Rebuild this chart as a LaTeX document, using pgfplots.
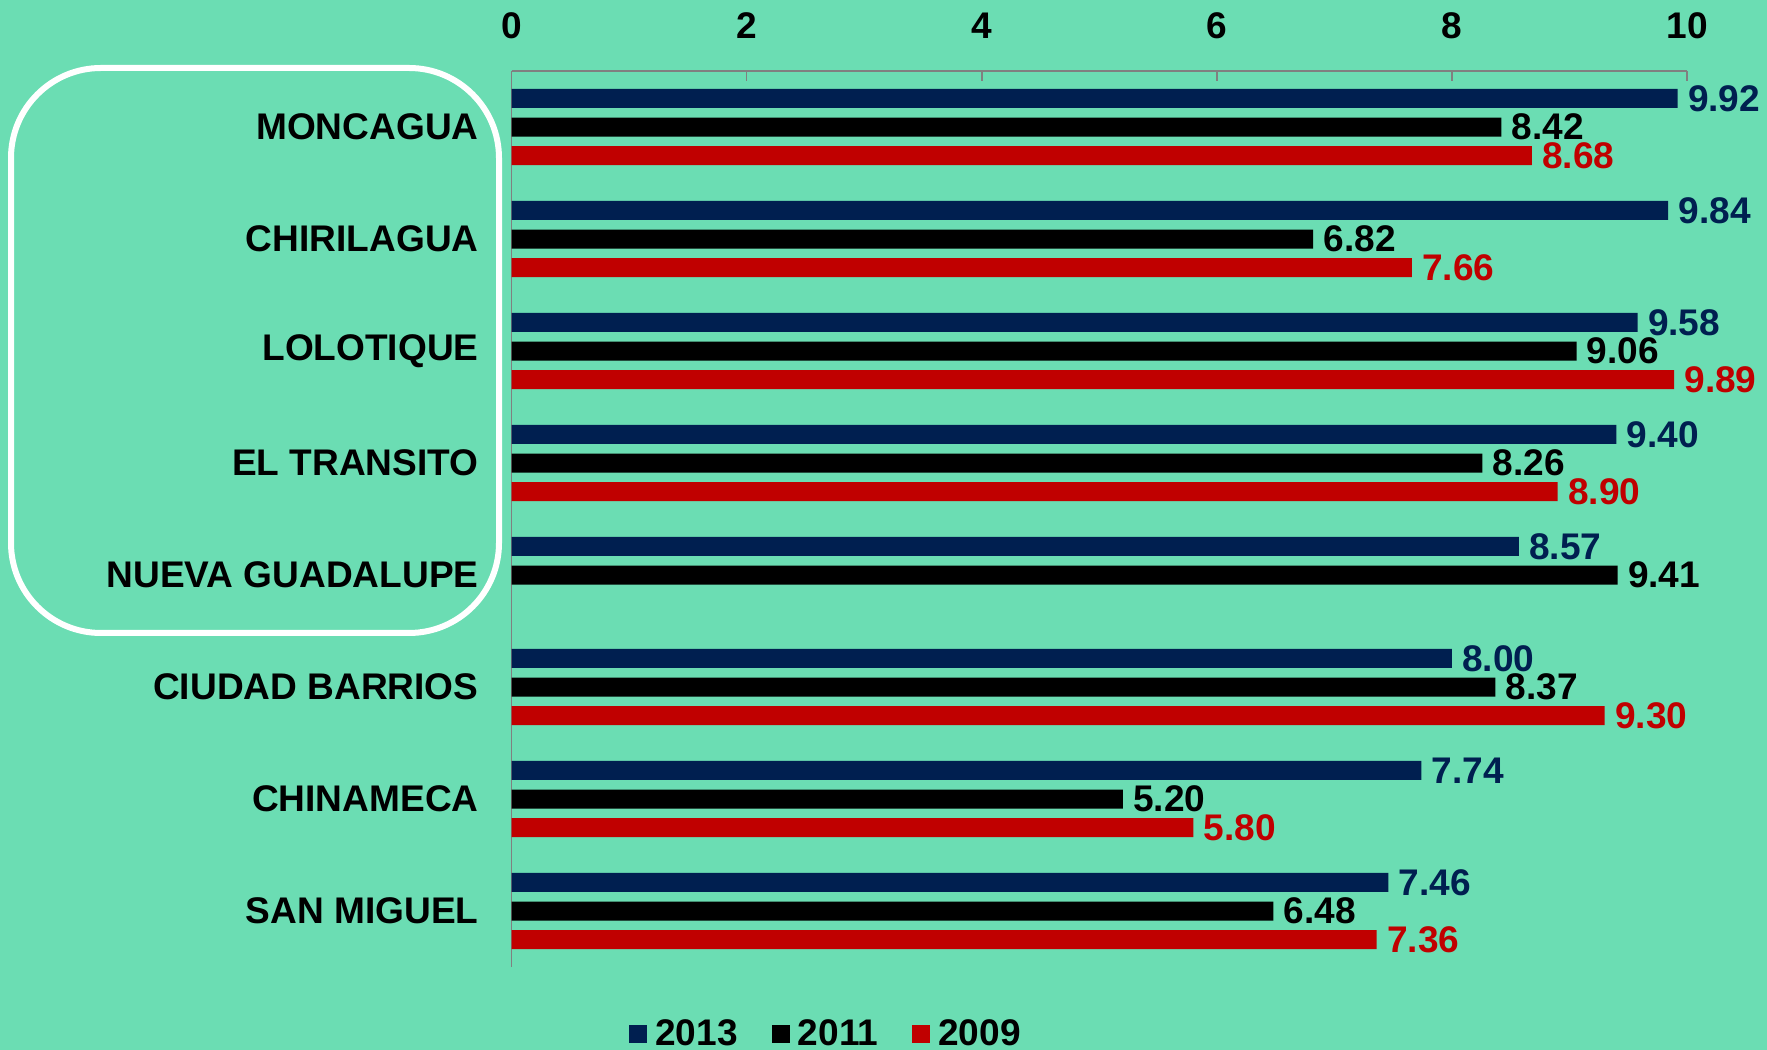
\documentclass[border=0pt]{standalone}
\usepackage{pgfplots}
\pgfplotsset{compat=1.18}
\usepackage{fontspec}
\setmainfont{Liberation Sans}
\definecolor{bg}{RGB}{107,221,179}
\definecolor{navy}{RGB}{0,31,80}
\definecolor{rred}{RGB}{192,0,0}
\definecolor{axgray}{RGB}{128,128,128}
\newcommand{\cfont}{\fontsize{18.6}{22}\selectfont\bfseries}
\begin{document}
\begin{tikzpicture}
\fill[bg] (0,0) rectangle (883.5bp,525bp);
\useasboundingbox (0,0) rectangle (883.5bp,525bp);
\begin{axis}[
  at={(255.8bp,41.5bp)}, anchor=south west,
  scale only axis, width=587.7bp, height=448bp,
  xmin=0, xmax=10, ymin=0.5, ymax=8.5,
  axis x line*=top, axis y line*=left,
  axis line style={axgray, line width=0.8pt},
  xtick={0,2,...,10},
  tick align=inside,
  major tick length=5bp,
  xtick style={axgray, line width=0.8pt},
  ytick={1,...,8},
  yticklabels={SAN MIGUEL,CHINAMECA,CIUDAD BARRIOS,NUEVA GUADALUPE,EL TRANSITO,LOLOTIQUE,CHIRILAGUA,MONCAGUA},
  ytick style={draw=none},
  ticklabel style={font=\cfont},
  xticklabel style={yshift=12.5bp},
  yticklabel style={xshift=-8bp},
  /pgf/number format/assume math mode=true,
  xbar, bar width=9.5bp,
  point meta=x,
  nodes near coords={\pgfmathprintnumber[fixed,fixed zerofill,precision=2]{\pgfplotspointmeta}},
  nodes near coords style={font=\cfont, inner sep=2bp, xshift=3bp},
  legend style={at={(0.2675,-0.075)}, anchor=center, draw=none, fill=none,
    legend columns=3, font=\cfont, column sep=3bp,
    nodes={inner sep=1bp},
    /tikz/every even column/.append style={column sep=16bp}},
  legend image code/.code={\fill[#1] (0bp,-4.5bp) rectangle (9bp,4.5bp);},
  clip=false,
]
\addplot[fill=navy, draw=none, bar shift=14.3bp, nodes near coords style={text=navy}]
  coordinates {(9.92,8) (9.84,7) (9.58,6) (9.40,5) (8.57,4) (8.00,3) (7.74,2) (7.46,1)};
\addplot[fill=black, draw=none, bar shift=0bp, nodes near coords style={text=black}]
  coordinates {(8.42,8) (6.82,7) (9.06,6) (8.26,5) (9.41,4) (8.37,3) (5.20,2) (6.48,1)};
\addplot[fill=rred, draw=none, bar shift=-14.3bp, nodes near coords style={text=rred}]
  coordinates {(8.68,8) (7.66,7) (9.89,6) (8.90,5) (9.30,3) (5.80,2) (7.36,1)};
\legend{2013,2011,2009}
\end{axis}
\draw[white, line width=3bp, rounded corners=45bp] (5.5bp,208.5bp) rectangle (249.5bp,491bp);
\end{tikzpicture}
\end{document}
